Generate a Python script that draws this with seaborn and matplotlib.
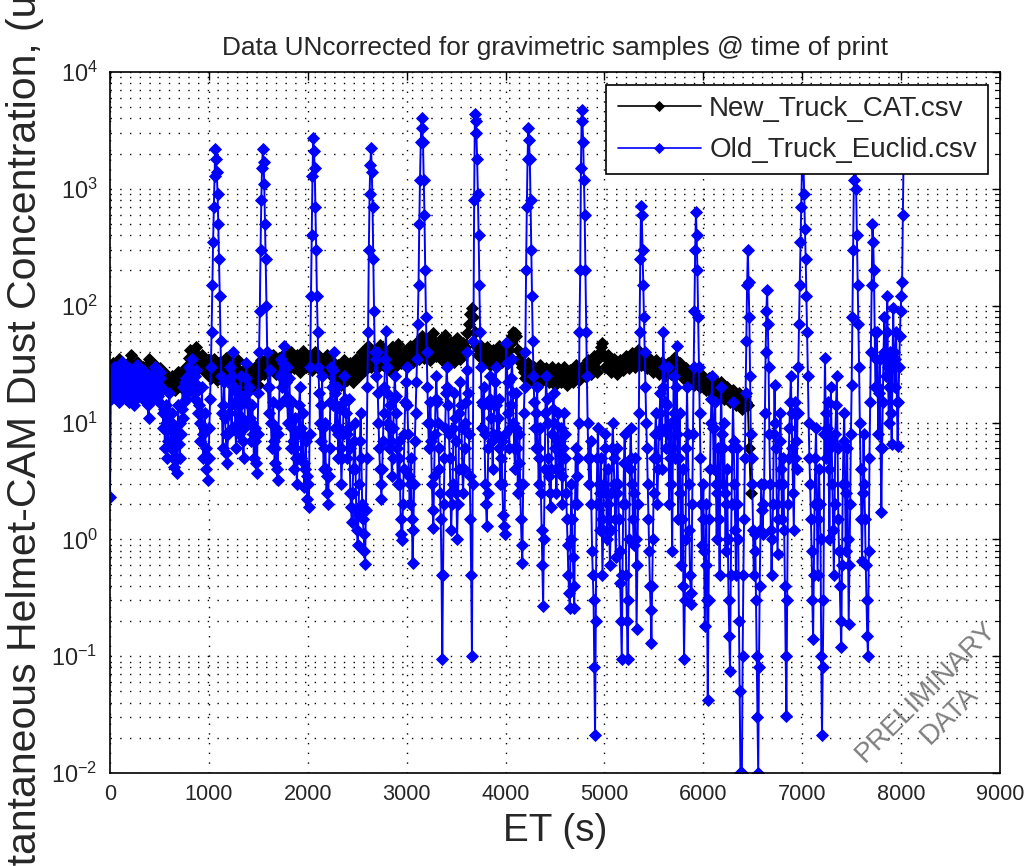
import numpy as np
import pandas as pd
import matplotlib
matplotlib.use("Agg")
import matplotlib.pyplot as plt
import seaborn as sns
from matplotlib import font_manager
from matplotlib.ticker import LogLocator, NullLocator, NullFormatter

# sample spacing of the two helmet-cam logs (s); the *_mid lists are the
# readings that fall half a step after each main reading
CAT_DT = 30
EUCLID_DT = 15

# New_Truck_CAT.csv - one row = 600 s
cat_conc = [
    18, 32, 22, 35, 24, 31, 23, 38, 25, 33, 22, 30, 24, 35, 23, 31, 21, 29, 20, 26,
    19, 25, 19, 27, 20, 26, 28, 42, 30, 44, 29, 38, 27, 34, 24, 35, 23, 33, 24, 36,
    23, 32, 24, 34, 22, 28, 19, 27, 20, 30, 21, 34, 26, 40, 28, 38, 26, 36, 27, 39,
    28, 40, 29, 38, 27, 41, 30, 37, 28, 40, 29, 36, 27, 38, 26, 33, 22, 31, 21, 34,
    23, 32, 22, 35, 25, 40, 28, 45, 30, 42, 29, 46, 31, 40, 28, 44, 30, 47, 32, 41,
    30, 45, 33, 48, 35, 55, 36, 52, 34, 58, 37, 50, 34, 56, 36, 49, 33, 53, 35, 48,
    40, 70, 95, 60, 38, 45, 32, 44, 31, 42, 30, 45, 33, 40, 32, 48, 60, 55, 35, 30,
    24, 32, 23, 30, 24, 31, 23, 29, 22, 30, 21, 29, 22, 30, 21, 28, 22, 31, 23, 30,
    25, 34, 26, 37, 27, 40, 48, 30, 38, 27, 35, 26, 34, 28, 37, 29, 39, 30, 42, 31,
    38, 29, 35, 27, 34, 26, 33, 25, 32, 26, 36, 28, 32, 24, 29, 22, 27, 21, 26, 20,
    25, 19, 24, 18, 23, 17, 22, 16, 20, 15, 19, 14, 18, 13, 17, 14, 2.5,
]
cat_conc_mid = [
    27, 24, 30, 27, 29, 25, 33, 28, 30, 26, 27, 25, 31, 26, 28, 24, 26, 22, 24, 21,
    23, 21, 24, 22, 24, 30, 36, 33, 39, 34, 35, 30, 32, 27, 31, 26, 30, 26, 32, 27,
    29, 26, 30, 25, 26, 22, 24, 22, 27, 24, 30, 28, 35, 31, 34, 29, 33, 30, 35, 31,
    35, 32, 35, 31, 36, 33, 34, 31, 36, 32, 33, 30, 34, 30, 30, 26, 28, 25, 29, 26,
    29, 25, 30, 28, 35, 32, 40, 34, 38, 33, 40, 36, 36, 32, 39, 35, 42, 37, 38, 34,
    40, 37, 44, 39, 50, 41, 47, 40, 52, 44, 46, 39, 50, 42, 45, 38, 48, 40, 44, 44,
    58, 85, 80, 45, 42, 36, 40, 35, 38, 34, 40, 36, 38, 35, 42, 55, 58, 42, 32, 27,
    29, 26, 27, 26, 28, 26, 27, 25, 27, 24, 26, 24, 27, 24, 25, 24, 28, 26, 28, 27,
    30, 29, 33, 30, 35, 44, 38, 35, 31, 32, 29, 31, 30, 33, 32, 35, 33, 38, 35, 35,
    32, 33, 30, 31, 29, 30, 28, 29, 28, 32, 31, 30, 27, 27, 25, 25, 23, 24, 22, 23,
    21, 22, 20, 21, 19, 20, 18, 18, 17, 17, 16, 16, 15, 15, 15, 6,
]

# Old_Truck_Euclid.csv - one row = 300 s
euclid_conc = [
    2.3, 24, 17, 30, 19, 26, 15, 22, 33, 18, 27, 16, 21, 29, 17, 24, 14, 20, 31, 19,
    25, 17, 28, 20, 15, 23, 11, 19, 26, 16, 30, 18, 22, 15, 27, 19, 9, 6, 14, 7,
    18, 6, 12, 4.2, 9, 3.7, 14, 5, 8, 20, 15, 24, 18, 30, 20, 35, 22, 16, 28, 19,
    14, 7, 20, 5, 12, 4, 3.2, 9, 30, 150, 700, 2200, 1400, 500, 120, 25, 6, 22, 8, 4.5,
    12, 30, 9, 40, 15, 6, 18, 8, 25, 11, 5, 16, 32, 10, 20, 7, 14, 5, 9, 3.7,
    18, 90, 800, 2200, 1100, 250, 40, 12, 28, 6, 15, 4.5, 9, 3.2, 14, 35, 20, 45, 16, 30,
    10, 24, 6, 15, 4, 11, 3, 8, 20, 5, 12, 2.8, 7, 2.2, 1.9, 30, 400, 2700, 1500, 300,
    60, 18, 7, 25, 4, 10, 2.5, 2.0, 6, 30, 14, 40, 9, 20, 5, 13, 3, 8, 25, 12,
    5, 16, 2.5, 1.4, 4, 10, 1.8, 0.9, 3, 12, 2, 1.1, 0.62, 5, 60, 900, 2250, 700, 90, 25,
    40, 10, 4, 2.2, 7, 20, 61, 18, 6, 14, 3.5, 9, 25, 12, 3, 7, 1.5, 0.98, 4, 15,
    30, 8, 2, 5, 0.63, 3, 12, 35, 150, 1200, 4000, 2500, 600, 80, 20, 6, 15, 3, 1.25, 8,
    25, 10, 4, 1.5, 0.094, 2, 9, 30, 14, 5, 1.2, 3, 18, 7, 1, 4, 22, 9, 2.5, 6,
    15, 40, 8, 1.5, 0.1, 50, 4400, 3000, 900, 150, 30, 9, 20, 3, 1.3, 6, 25, 11, 4, 14,
    30, 8, 16, 3, 7, 1.6, 1.1, 48, 22, 6, 14, 35, 10, 4, 18, 2.5, 8, 1.5, 0.63, 12,
    40, 700, 3300, 1800, 300, 50, 15, 6, 20, 3, 9, 1.2, 0.27, 4, 25, 10, 3.5, 1.9, 8, 18,
    6, 2.5, 12, 4, 9, 2, 12, 5, 1.5, 0.5, 0.26, 3, 0.7, 0.26, 6, 2, 10, 200, 4700, 2500,
    600, 60, 10, 3, 7, 0.8, 0.3, 0.021, 2, 9, 1.2, 5, 0.5, 3, 8, 1, 4, 0.6, 2.5, 10,
    3, 0.7, 6, 1.5, 0.42, 0.094, 2, 8, 0.5, 0.094, 1, 9, 3, 0.9, 5, 0.17, 2, 60, 720, 300,
    80, 20, 6, 1.5, 0.4, 0.13, 1, 5, 12, 2, 8, 18, 4, 60, 15, 6, 30, 2, 10, 0.8,
    25, 5, 45, 1.5, 12, 0.6, 4, 0.094, 1, 20, 3, 0.5, 0.28, 8, 90, 630, 200, 30, 5, 0.9,
    3, 0.18, 2, 0.042, 1.5, 10, 25, 4, 15, 1, 6, 0.5, 20, 3, 10, 0.8, 4, 0.3, 0.075, 2,
    15, 3, 0.5, 6, 0.2, 0.01, 0.01, 0.5, 5, 50, 300, 80, 8, 3, 0.5, 1.1, 0.1, 0.01, 0.4, 3,
    1.1, 3, 40, 135, 30, 3, 0.5, 2, 21, 6, 0.75, 3, 12, 1.5, 5, 0.4, 0.031, 2, 9, 25,
    6, 1.2, 15, 4, 30, 150, 700, 2500, 900, 250, 60, 10, 3, 0.8, 0.14, 2, 9, 0.5, 4, 1,
    0.021, 0.3, 36, 5, 15, 1, 20, 3, 0.5, 8, 25, 1.5, 0.4, 0.12, 3, 12, 0.8, 6, 0.19, 2,
    21, 300, 2500, 1000, 150, 30, 4, 0.65, 8, 1.5, 0.3, 0.1, 5, 40, 500, 200, 20, 60, 8, 35,
    1.7, 15, 80, 25, 120, 10, 40, 6.5, 95, 20, 60, 6.3, 30, 90, 160, 2000,
]
euclid_conc_mid = [
    16, 19, 26, 21, 28, 18, 25, 17, 24, 30, 20, 25, 15, 22, 26, 18, 27, 16, 22, 28,
    20, 23, 16, 26, 19, 14, 17, 24, 18, 22, 21, 27, 17, 24, 20, 12, 13, 10, 5, 12,
    9, 10, 5, 7, 4.8, 8, 6.5, 10, 13, 11, 22, 16, 25, 22, 28, 24, 18, 25, 21, 12,
    10, 12, 8, 9, 6, 5, 5, 16, 60, 350, 1300, 1800, 900, 250, 50, 12, 14, 11, 5.5, 8,
    22, 14, 25, 20, 9, 12, 10, 14, 16, 7, 9, 24, 18, 14, 11, 10, 8, 7, 4.5, 8,
    40, 300, 1500, 1700, 500, 100, 20, 20, 10, 10, 7, 6, 4, 8, 25, 26, 32, 25, 22, 15,
    16, 10, 9, 7, 6, 5, 5, 14, 9, 8, 4.5, 4, 3.5, 3, 8, 120, 1300, 2100, 700, 120,
    30, 10, 14, 9, 6, 4, 3.5, 3.5, 15, 20, 28, 18, 14, 8, 9, 6, 5, 15, 16, 8,
    9, 6, 1.9, 2.5, 7, 4, 1.2, 1.6, 7, 5, 1.5, 0.8, 1.8, 20, 300, 1600, 1400, 250, 40, 35,
    18, 6, 3, 4, 12, 35, 30, 10, 9, 7, 5, 16, 17, 6, 5, 3, 1.1, 2, 8, 22,
    14, 3.5, 3, 1.5, 1.2, 7, 22, 70, 500, 2500, 3300, 1200, 200, 40, 10, 10, 7, 1.8, 3.5, 16,
    15, 6, 2.5, 0.5, 0.5, 5, 18, 20, 8, 2.5, 2, 9, 11, 2.5, 2, 12, 14, 4, 4, 10,
    28, 18, 3.5, 0.5, 3, 800, 3800, 1800, 400, 60, 15, 14, 8, 2, 2.5, 14, 16, 7, 8, 22,
    14, 11, 6, 5, 3, 1.3, 8, 32, 12, 9, 24, 18, 6, 9, 6, 4.5, 3, 0.9, 3, 20,
    200, 1800, 2600, 800, 120, 25, 9, 12, 6, 5, 2.5, 0.6, 1, 12, 16, 5, 2.5, 4, 13, 10,
    4, 7, 6, 7, 3.5, 6, 8, 2.5, 0.9, 0.35, 1, 1.5, 0.4, 2, 3.5, 5, 60, 1500, 3800, 1200,
    200, 25, 5, 5, 2, 0.5, 0.08, 0.2, 5, 3, 2.5, 1.5, 1.2, 6, 2.5, 2, 1.5, 1.2, 6, 5,
    1.5, 2.5, 3, 0.8, 0.2, 0.5, 4.5, 2, 0.2, 0.3, 4, 5, 1.5, 2.5, 1, 0.6, 12, 250, 600, 150,
    40, 10, 3, 0.8, 0.25, 0.4, 2.5, 8, 5, 4, 12, 9, 20, 30, 9, 14, 8, 5, 3, 6,
    12, 20, 8, 5, 2.5, 1.5, 0.4, 0.3, 6, 8, 1.2, 0.35, 2, 30, 300, 400, 80, 12, 2, 1.5,
    0.8, 0.6, 0.3, 0.3, 4, 16, 9, 9, 3, 2.5, 1.5, 6, 8, 6, 2.5, 2, 1, 0.15, 0.5, 6,
    7, 1.2, 2, 1, 0.05, 0.01, 0.1, 1.5, 18, 150, 160, 25, 5, 1.2, 0.8, 0.3, 0.03, 0.08, 1.2, 1.8,
    2, 12, 90, 70, 8, 1.2, 1, 8, 10, 2, 1.5, 7, 4, 3, 1.2, 0.1, 0.3, 5, 15, 12,
    2.5, 5, 7, 12, 70, 350, 1500, 1600, 450, 120, 25, 5, 1.5, 0.3, 0.5, 5, 2, 1.5, 2, 0.1,
    0.08, 8, 12, 9, 4, 6, 7, 1.2, 2, 14, 6, 0.8, 0.2, 0.6, 7, 3, 2.5, 1, 0.6, 8,
    80, 1200, 1700, 400, 70, 10, 1.5, 2.5, 3, 0.6, 0.15, 0.8, 15, 150, 350, 60, 35, 20, 18, 6,
    6, 40, 35, 60, 30, 20, 12, 30, 40, 35, 15, 15, 55, 120, 600,
]

series_names = ["New_Truck_CAT.csv", "Old_Truck_Euclid.csv"]
series_colors = ["#000000", "#0000ff"]
x_ticks = [0, 1000, 2000, 3000, 4000, 5000, 6000, 7000, 8000, 9000]
y_limits = [1e-2, 1e4]

title_text = "Data UNcorrected for gravimetric samples @ time of print"
x_label = "ET (s)"
y_label = "Instantaneous Helmet-CAM Dust Concentration, (ug/m3)"
stamp = "PRELIMINARY\nDATA"


def build_log(main, mid, dt):
    a = pd.DataFrame({"ET": np.arange(len(main)) * dt, "conc": main})
    b = pd.DataFrame({"ET": np.arange(len(mid)) * dt + dt / 2, "conc": mid})
    return pd.concat([a, b]).sort_values("ET").reset_index(drop=True)


cat = build_log(cat_conc, cat_conc_mid, CAT_DT)
euclid = build_log(euclid_conc, euclid_conc_mid, EUCLID_DT)

sns.set_theme(style="white")
have = {f.name for f in font_manager.fontManager.ttflist}
narrow = "Liberation Sans Narrow" if "Liberation Sans Narrow" in have else "Liberation Sans"
scale = 1.0 if narrow == "Liberation Sans Narrow" else 0.82
plt.rcParams["font.family"] = [narrow, "DejaVu Sans"]
plt.rcParams["mathtext.fontset"] = "custom"
plt.rcParams["mathtext.rm"] = narrow
plt.rcParams["axes.edgecolor"] = "black"

fig = plt.figure(figsize=(10.25, 8.66), dpi=100)
ax = fig.add_axes([110 / 1025, 1 - 773 / 866, 890 / 1025, 701 / 866])

for df, name, col in [(cat, series_names[0], series_colors[0]),
                      (euclid, series_names[1], series_colors[1])]:
    sns.lineplot(data=df, x="ET", y="conc", ax=ax, color=col, label=name,
                 estimator=None, sort=False, linewidth=1.4,
                 marker="D", markersize=6.3, markeredgecolor=col,
                 markerfacecolor=col, markeredgewidth=0.6)

ax.set_yscale("log")
ax.set_ylim(*y_limits)
ax.set_xlim(x_ticks[0], x_ticks[-1])
ax.set_xticks(x_ticks)
ax.xaxis.set_minor_locator(NullLocator())
ax.yaxis.set_major_locator(LogLocator(base=10, numticks=10))
ax.yaxis.set_minor_locator(LogLocator(base=10, subs=np.arange(2, 10), numticks=20))
ax.yaxis.set_minor_formatter(NullFormatter())

ax.grid(True, which="major", color="black", linestyle=(0, (1, 6)), linewidth=1.0)
ax.grid(True, which="minor", axis="y", color="black", linestyle=(0, (1, 6)), linewidth=1.0)
ax.tick_params(which="both", direction="in", top=True, right=True, color="black")
ax.tick_params(which="major", length=6, width=1)
ax.tick_params(which="minor", length=3.5, width=0.8)
ax.tick_params(axis="x", labelsize=19 * scale, pad=8)
ax.tick_params(axis="y", labelsize=20.5 * scale, pad=9)
for sp in ax.spines.values():
    sp.set_linewidth(1.2)
    sp.set_color("black")

ax.set_title(title_text, fontsize=23 * scale, pad=12)
ax.set_xlabel(x_label, fontsize=34 * scale, labelpad=6)
ax.set_ylabel(y_label, fontsize=36 * scale)
ax.yaxis.set_label_coords(-0.074, 0.525)

leg = ax.legend(loc="upper right", bbox_to_anchor=(0.9865, 0.9815), borderaxespad=0,
                prop={"family": "Liberation Sans", "size": 20}, frameon=True,
                fancybox=False, framealpha=1, edgecolor="black",
                handlelength=3.0, handletextpad=0.3, labelspacing=0.55,
                borderpad=0.4)
leg.get_frame().set_linewidth(1.2)
for h in leg.legend_handles:
    h.set_markersize(5)
    h.set_linewidth(1.2)

fig.text(0.915, 0.188, stamp, rotation=45, ha="center", va="center",
         multialignment="center", color="#808080", fontsize=20,
         family="Liberation Sans", linespacing=1.35)

fig.savefig("out.png", dpi=100)
